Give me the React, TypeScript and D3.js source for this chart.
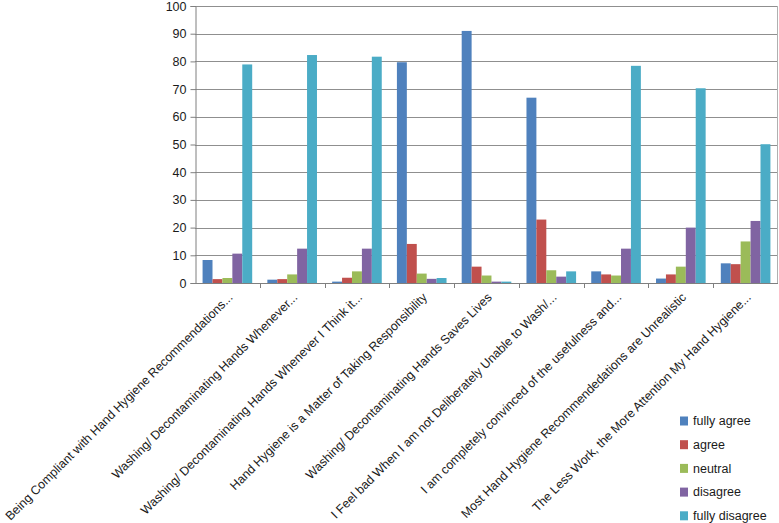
import React, { useEffect, useRef } from "react";
import * as d3 from "d3";

// survey statements (x axis)
const categories = [
  "Being Compliant with Hand Hygiene Recommendations...",
  "Washing/ Decontaminating Hands Whenever...",
  "Washing/ Decontaminating Hands Whenever I Think it...",
  "Hand Hygiene is a Matter of Taking Responsibility",
  "Washing/ Decontaminating Hands Saves Lives",
  "I Feel bad When I am not Deliberately Unable to Wash/...",
  "I am completely convinced of the usefulness and...",
  "Most Hand Hygiene Recommendedations are Unrealistic",
  "The Less Work, the More Attention My Hand Hygiene...",
];

const seriesNames = ["fully agree", "agree", "neutral", "disagree", "fully disagree"];

const fullyAgree = [8.3, 1.2, 0.5, 79.7, 91, 66.9, 4.2, 1.6, 7.1];
const agree = [1.4, 1.4, 1.9, 14.1, 5.9, 22.9, 3.1, 3.1, 6.8];
const neutral = [1.8, 3.1, 4.2, 3.4, 2.7, 4.6, 2.7, 5.9, 15];
const disagree = [10.6, 12.4, 12.4, 1.5, 0.5, 2.3, 12.4, 20, 22.4];
const fullyDisagree = [78.9, 82.3, 81.7, 1.8, 0.5, 4.2, 78.4, 70.3, 50.1];

const yTicks = [0, 10, 20, 30, 40, 50, 60, 70, 80, 90, 100];

const colors = ["#4f81bd", "#c0504d", "#9bbb59", "#8064a2", "#4bacc6"];

export default function App() {
  const ref = useRef<SVGSVGElement>(null);

  useEffect(() => {
    const svg = d3.select(ref.current);
    svg.selectAll("*").remove();

    const margin = { top: 6, left: 195, right: 1 };
    const width = 779, height = 523;
    const plotBottom = 283;
    const series = [fullyAgree, agree, neutral, disagree, fullyDisagree];

    const x = d3.scaleBand<string>()
      .domain(categories)
      .range([margin.left, width - margin.right])
      .padding(0);
    const bw = x.bandwidth();
    const x1 = d3.scaleBand<number>()
      .domain(d3.range(series.length))
      .range([bw * 0.117, bw * 0.883])
      .padding(0);
    const y = d3.scaleLinear().domain([0, 100]).range([plotBottom, margin.top]);

    const font = "Liberation Sans, Arial, sans-serif";

    // gridlines
    svg.append("g")
      .selectAll("line")
      .data(yTicks.filter((t) => t > 0))
      .join("line")
      .attr("x1", margin.left)
      .attr("x2", width - margin.right)
      .attr("y1", (d) => Math.round(y(d)) + 0.5)
      .attr("y2", (d) => Math.round(y(d)) + 0.5)
      .attr("stroke", "#8f8f8f")
      .attr("stroke-width", 1);

    // right border
    svg.append("line")
      .attr("x1", width - margin.right - 0.5)
      .attr("x2", width - margin.right - 0.5)
      .attr("y1", y(100))
      .attr("y2", plotBottom)
      .attr("stroke", "#b0b0b0");

    // bars
    const groups = svg.append("g")
      .selectAll("g")
      .data(categories)
      .join("g")
      .attr("transform", (d) => `translate(${x(d)},0)`);

    groups.selectAll("rect")
      .data((_, i) => series.map((s, k) => ({ k, v: s[i] })))
      .join("rect")
      .attr("x", (d) => x1(d.k)!)
      .attr("width", x1.bandwidth())
      .attr("y", (d) => y(d.v))
      .attr("height", (d) => plotBottom - y(d.v))
      .attr("fill", (d) => colors[d.k]);

    // y axis
    const yAxis = svg.append("g")
      .attr("transform", `translate(${margin.left + 0.5},0)`)
      .call(d3.axisLeft(y).tickValues(yTicks).tickSize(5).tickPadding(4));
    yAxis.selectAll("path, line").attr("stroke", "#7f7f7f");
    yAxis.selectAll("text")
      .attr("font-family", font)
      .attr("font-size", 12.5)
      .attr("fill", "#1a1a1a");

    // x axis
    svg.append("line")
      .attr("x1", margin.left)
      .attr("x2", width - margin.right)
      .attr("y1", plotBottom + 0.5)
      .attr("y2", plotBottom + 0.5)
      .attr("stroke", "#7f7f7f");
    svg.append("g")
      .selectAll("line")
      .data(categories.slice(1))
      .join("line")
      .attr("x1", (d) => Math.round(x(d)!) + 0.5)
      .attr("x2", (d) => Math.round(x(d)!) + 0.5)
      .attr("y1", plotBottom)
      .attr("y2", plotBottom + 5)
      .attr("stroke", "#7f7f7f");

    svg.append("g")
      .selectAll("text")
      .data(categories)
      .join("text")
      .attr("transform", (d) => `translate(${x(d)! + bw / 2 + 3},${plotBottom + 12}) rotate(-45)`)
      .attr("text-anchor", "end")
      .attr("dy", "0.35em")
      .attr("font-family", font)
      .attr("font-size", 12.4)
      .attr("fill", "#1a1a1a")
      .text((d) => d);

    // legend
    const legend = svg.append("g")
      .selectAll("g")
      .data(seriesNames)
      .join("g")
      .attr("transform", (_, i) => `translate(680,${421 + i * 23.7})`);
    legend.append("rect")
      .attr("x", 0)
      .attr("y", -4.5)
      .attr("width", 8)
      .attr("height", 9)
      .attr("fill", (_, i) => colors[i]);
    legend.append("text")
      .attr("x", 13)
      .attr("dy", "0.35em")
      .attr("font-family", font)
      .attr("font-size", 12.5)
      .attr("fill", "#1a1a1a")
      .text((d) => d);
  }, []);

  return (
    <svg
      ref={ref}
      width={779}
      height={523}
      style={{ position: "absolute", left: 0, top: 0, background: "#fff" }}
    />
  );
}
